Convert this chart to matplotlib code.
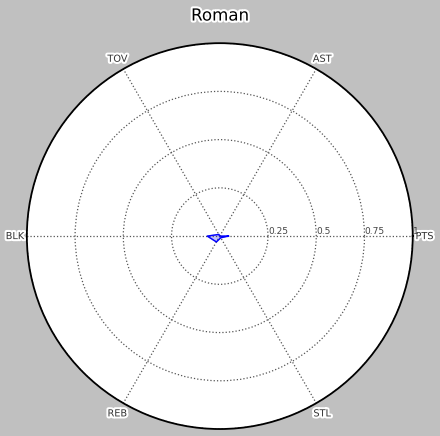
import numpy as np
import matplotlib
matplotlib.use("Agg")
import matplotlib.pyplot as plt
import matplotlib.patheffects as pe

categories = ["PTS", "AST", "TOV", "BLK", "REB", "STL"]
values = [0.045, 0.0, 0.01, 0.065, 0.035, 0.01]
rticks = [0.25, 0.5, 0.75, 1]
rlabels = ["0.25", "0.5", "0.75", "1"]

angles = np.linspace(0, 2 * np.pi, len(categories), endpoint=False)
a = np.concatenate([angles, angles[:1]])
v = np.concatenate([values, values[:1]])

fig = plt.figure(figsize=(4.4, 4.36), dpi=100, facecolor="#c0c0c0")
ax = fig.add_axes([0.061, 0.016, 0.877, 0.885], polar=True)
ax.set_facecolor("white")

ax.plot(a, v, color="blue", linewidth=1)
ax.fill(a, v, color="blue", alpha=0.25)

ax.set_ylim(0, 1)
ax.set_yticks(rticks)
ax.set_yticklabels(rlabels, fontsize=6.5, color="#444444")
ax.set_rlabel_position(0)
ax.set_xticks(angles)
ax.set_xticklabels(categories, fontsize=7, color="#333333")
for lbl in ax.get_xticklabels():
    lbl.set_path_effects([pe.withStroke(linewidth=3, foreground="white")])
ax.tick_params(axis="x", pad=-2)
ax.grid(True, linestyle=":", color="#555555", linewidth=0.9)
ax.spines["polar"].set_linewidth(1.3)
ax.spines["polar"].set_color("black")

t = fig.suptitle("Roman", fontsize=12, y=0.985, va="top")
t.set_path_effects([pe.withStroke(linewidth=3, foreground="white")])

fig.savefig("out.png", dpi=100, facecolor=fig.get_facecolor())
